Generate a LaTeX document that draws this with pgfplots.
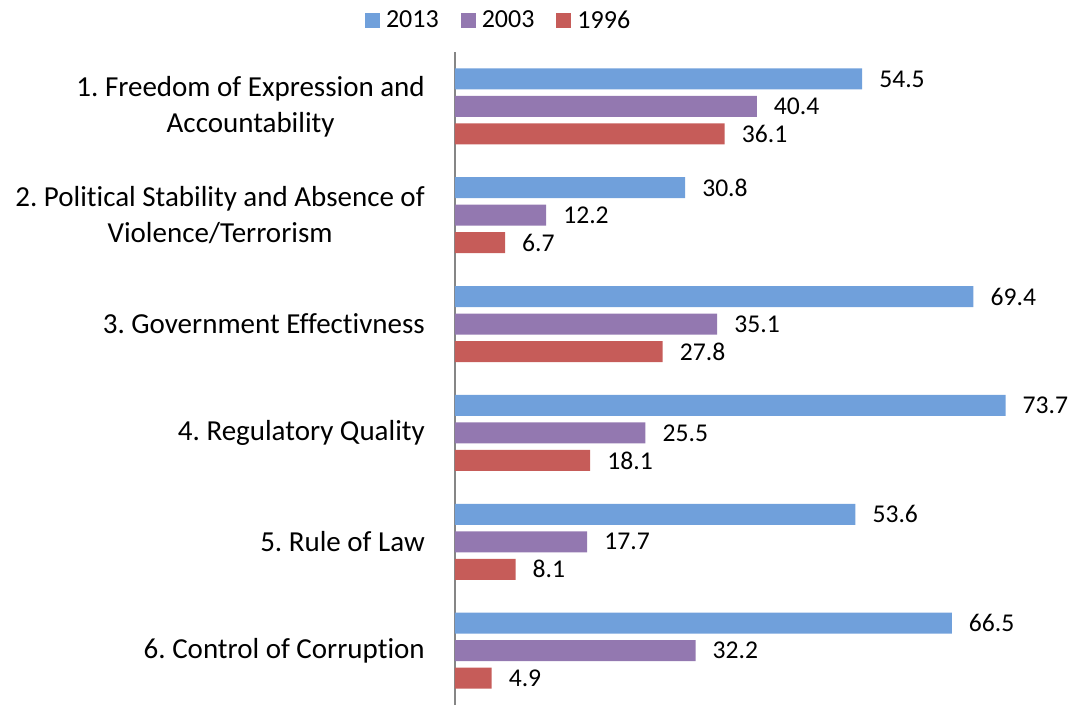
\documentclass[border=0pt]{standalone}
\usepackage{pgfplots}
\pgfplotsset{compat=1.18}
\usepackage{fontspec}
\setmainfont{Carlito}[Ligatures=NoCommon]
\frenchspacing
\definecolor{cblue}{RGB}{112,160,219}
\definecolor{cpurple}{RGB}{147,120,176}
\definecolor{cred}{RGB}{198,92,89}
\definecolor{caxis}{RGB}{134,134,134}
\begin{document}
\begin{tikzpicture}[x=1pt,y=1pt]
\useasboundingbox (-455pt,0pt) rectangle (618pt,705pt);
\begin{axis}[
  at={(0pt,0pt)}, anchor=south west,
  scale only axis,
  width=597.6pt, height=653pt,
  xbar, bar width=21pt,
  xmin=0, xmax=80,
  ymin=0.5, ymax=6.5,
  axis x line=none,
  axis y line=left,
  y axis line style={-, draw=caxis, line width=1.2pt},
  ytick={1,2,3,4,5,6},
  yticklabels={{6. Control of Corruption},{5. Rule of Law},{4. Regulatory Quality},{3. Government Effectivness},{2. Political Stability and Absence of\\Violence/Terrorism},{1. Freedom of Expression and\\Accountability}},
  yticklabel style={align=center, inner sep=0pt, xshift=-30pt, font=\fontsize{29}{36}\selectfont},
  major tick length=0pt,
  ytick style={draw=none},
  nodes near coords,
  nodes near coords style={anchor=west, inner sep=0pt, xshift=17pt, font=\fontsize{25.6}{30}\selectfont, /pgf/number format/fixed, /pgf/number format/fixed zerofill, /pgf/number format/precision=1, /pgf/number format/assume math mode=true},
  legend style={at={(0.073,1.049)}, anchor=center, draw=none, fill=none, legend columns=3, font=\fontsize{26}{30}\selectfont,
    /tikz/every odd column/.append style={column sep=4pt},
    /tikz/every even column/.append style={column sep=20pt}},
  legend cell align=left,
  legend image code/.code={\fill[#1] (0pt,-7.5pt) rectangle (15pt,7.5pt);},
]
\addplot[fill=cblue, draw=none, bar shift=27.5pt] coordinates {(54.5,6) (30.8,5) (69.4,4) (73.7,3) (53.6,2) (66.5,1)};
\addplot[fill=cpurple, draw=none, bar shift=0pt] coordinates {(40.4,6) (12.2,5) (35.1,4) (25.5,3) (17.7,2) (32.2,1)};
\addplot[fill=cred, draw=none, bar shift=-27.5pt] coordinates {(36.1,6) (6.7,5) (27.8,4) (18.1,3) (8.1,2) (4.9,1)};
\legend{2013,2003,1996}
\end{axis}
\end{tikzpicture}
\end{document}
